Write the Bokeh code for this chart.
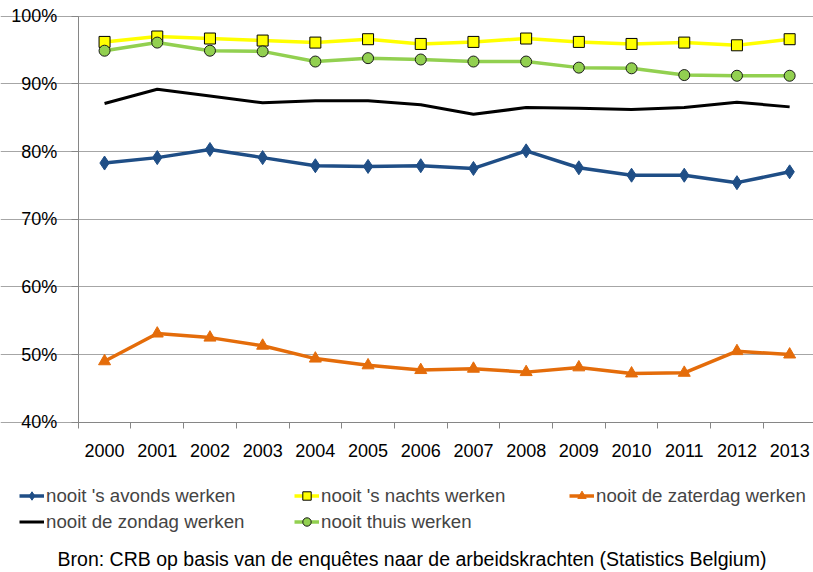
from bokeh.plotting import figure
from bokeh.models import FixedTicker, PrintfTickFormatter, Legend, LegendItem, Label, Range1d
from bokeh.embed import file_html
from bokeh.resources import INLINE

years = list(range(2000, 2014))
avonds = [78.3, 79.1, 80.3, 79.1, 77.9, 77.8, 77.9, 77.5, 80.1, 77.6, 76.5, 76.5, 75.4, 77.0]
nachts = [96.2, 97.0, 96.7, 96.4, 96.1, 96.6, 95.9, 96.2, 96.7, 96.2, 95.9, 96.1, 95.7, 96.6]
zaterdag = [49.0, 53.1, 52.5, 51.3, 49.4, 48.4, 47.7, 47.9, 47.4, 48.1, 47.2, 47.3, 50.5, 50.0]
zondag = [87.1, 89.2, 88.2, 87.2, 87.5, 87.5, 86.9, 85.5, 86.5, 86.4, 86.2, 86.5, 87.3, 86.6]
thuis = [94.9, 96.1, 94.9, 94.8, 93.3, 93.8, 93.6, 93.3, 93.3, 92.4, 92.3, 91.3, 91.2, 91.2]
y_ticks = [40, 50, 60, 70, 80, 90, 100]
labels = ["nooit 's avonds werken", "nooit 's nachts werken", "nooit de zaterdag werken",
          "nooit de zondag werken", "nooit thuis werken"]
source_text = "Bron: CRB op basis van de enquêtes naar de arbeidskrachten (Statistics Belgium)"

FONT = "Liberation Sans"

# layout (pixels): the frame spans the whole figure; axes sit at fixed data locations
W, H = 813, 572
left_px, top_px, bottom_px = 77.7, 15.7, 421.7   # positions of 1999.5 / 100% / 40% inside the frame
cat_px = 52.7
y_per_px = 60.0 / (bottom_px - top_px)
y_end = 100 + top_px * y_per_px
y_start = 100 - (H - top_px) * y_per_px
x_start = 1999.5 - left_px / cat_px
x_end = x_start + W / cat_px

p = figure(frame_width=W, frame_height=H,
           x_range=Range1d(x_start, x_end), y_range=Range1d(y_start, y_end),
           output_backend="svg", toolbar_location=None,
           min_border=0)
p.outline_line_color = None
p.xgrid.visible = False
p.ygrid.grid_line_color = "#a6a6a6"
p.ygrid.grid_line_width = 1
p.ygrid.bounds = (1999.5, 2013.5)

p.yaxis.fixed_location = 1999.5
p.yaxis.bounds = (40, 100)
p.yaxis.ticker = FixedTicker(ticks=y_ticks)
p.yaxis.formatter = PrintfTickFormatter(format="%d%%")
p.yaxis.axis_line_color = "#868686"
p.yaxis.major_tick_line_color = "#868686"
p.yaxis.major_tick_out = 7
p.yaxis.major_tick_in = 0
p.yaxis.minor_tick_line_color = None
p.yaxis.major_label_standoff = 14

p.xaxis.fixed_location = 40
p.xaxis.bounds = (1999.5, 2013.5)
p.xaxis.ticker = FixedTicker(ticks=years, minor_ticks=[y - 0.5 for y in years] + [years[-1] + 0.5])
p.xaxis.axis_line_color = "#868686"
p.xaxis.major_tick_line_color = None
p.xaxis.minor_tick_line_color = "#868686"
p.xaxis.minor_tick_out = 6
p.xaxis.minor_tick_in = 0
p.xaxis.major_label_standoff = 16

for ax in (p.xaxis, p.yaxis):
    ax.major_label_text_font = FONT
    ax.major_label_text_font_size = "18px"
    ax.major_label_text_color = "#000000"

blue = "#1f4e86"
yellow = "#ffff00"
orange = "#e46c0a"
green = "#92d050"

l1 = p.line(years, avonds, line_color=blue, line_width=3.5)
s1 = p.scatter(years, avonds, marker="diamond", size=14, fill_color=blue, line_color=blue)
l2 = p.line(years, nachts, line_color=yellow, line_width=3.5)
s2 = p.scatter(years, nachts, marker="square", size=11, fill_color=yellow, line_color="#000000", line_width=1)
l3 = p.line(years, zaterdag, line_color=orange, line_width=3.5)
s3 = p.scatter(years, zaterdag, marker="triangle", size=12, fill_color=orange, line_color=orange)
l4 = p.line(years, zondag, line_color="#000000", line_width=3)
l5 = p.line(years, thuis, line_color=green, line_width=3.5)
s5 = p.scatter(years, thuis, marker="circle", size=11, fill_color=green, line_color="#1a1a1a", line_width=1)

it = [LegendItem(label=labels[0], renderers=[l1, s1]),
      LegendItem(label=labels[1], renderers=[l2, s2]),
      LegendItem(label=labels[2], renderers=[l3, s3]),
      LegendItem(label=labels[3], renderers=[l4]),
      LegendItem(label=labels[4], renderers=[l5, s5])]
# legend fills column by column: order so rows read A B C / D E
legend = Legend(items=[it[0], it[3], it[1], it[4], it[2]], ncols=3, location=(19, 39.5),
                glyph_width=25, glyph_height=21, label_width=244, label_height=21,
                label_standoff=2, spacing=4, padding=0, margin=0,
                label_text_font=FONT, label_text_font_size="18.7px",
                border_line_color=None, background_fill_alpha=0)
p.add_layout(legend, "center")

p.add_layout(Label(x=411.5, y=14, x_units="screen", y_units="screen", text=source_text,
                   text_align="center", text_baseline="middle", text_font=FONT,
                   text_font_size="19.5px", text_color="#000000"))

open("out.html", "w").write(file_html(p, INLINE))
